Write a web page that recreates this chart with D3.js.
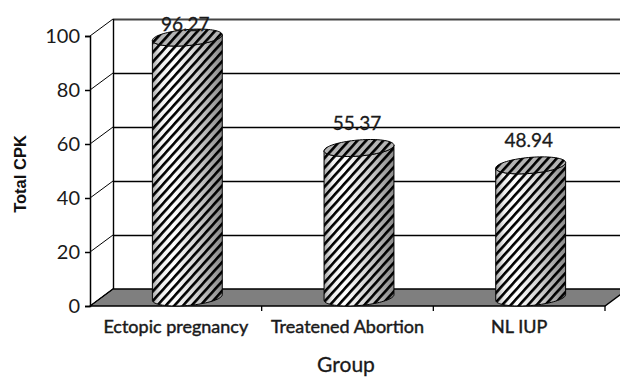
<!DOCTYPE html>
<html>
<head>
<meta charset="utf-8">
<script src="https://cdn.jsdelivr.net/npm/d3@7/dist/d3.min.js"></script>
<style>
  html, body { margin: 0; padding: 0; background: #fff; }
  svg { display: block; }
</style>
</head>
<body>
<svg id="chart" width="620" height="378"></svg>
<script>
// Chart data
const categories = ["Ectopic pregnancy", "Treatened Abortion", "NL IUP"];
const values = [96.27, 55.37, 48.94];
const yTicks = [0, 20, 40, 60, 80, 100];
const yTitle = "Total CPK";
const xTitle = "Group";

const svg = d3.select("#chart");
const W = 620, H = 378;

// Front plane of the 3-D box and the depth offset to the back wall
const frontLeft = 90, frontRight = 605, frontBottom = 306, frontTop = 36;
const depthX = 23, depthY = -17;

const x = d3.scaleBand().domain(categories).range([frontLeft, frontRight]).padding(0);
const y = d3.scaleLinear().domain([0, 100]).range([frontBottom, frontTop]);

const defs = svg.append("defs");

// Diagonal hatch used on the cylinders
const hatch = defs.append("pattern")
  .attr("id", "hatch")
  .attr("patternUnits", "userSpaceOnUse")
  .attr("width", 6.4).attr("height", 6.4)
  .attr("patternTransform", "rotate(42)");
hatch.append("rect").attr("x", 0).attr("y", 0).attr("width", 2.6).attr("height", 6.4).attr("fill", "#000");

// Horizontal shading of the cylinder body
const shade = defs.append("linearGradient").attr("id", "shade")
  .attr("x1", "0%").attr("x2", "100%").attr("y1", "0%").attr("y2", "0%");
[[0, "#a8a8a8"], [0.12, "#f0f0f0"], [0.3, "#ffffff"], [0.6, "#d6d6d6"], [0.85, "#a6a6a6"], [1, "#8a8a8a"]]
  .forEach(([o, c]) => shade.append("stop").attr("offset", o).attr("stop-color", c));

// Clip to the canvas so the box can run past the right edge
defs.append("clipPath").attr("id", "plotClip")
  .append("rect").attr("x", 0).attr("y", 0).attr("width", W).attr("height", H);

const g = svg.append("g").attr("clip-path", "url(#plotClip)");

// Floor
const floorPts = [
  [frontLeft, y(0)], [frontRight, y(0)],
  [frontRight + depthX, y(0) + depthY], [frontLeft + depthX, y(0) + depthY]
];
g.append("polygon")
  .attr("points", floorPts.map(p => p.join(",")).join(" "))
  .attr("fill", "#7f7f7f").attr("stroke", "#000").attr("stroke-width", 1.3);

// Back-wall gridlines
g.selectAll("line.grid").data(yTicks.filter(d => d > 0)).enter().append("line")
  .attr("class", "grid")
  .attr("x1", frontLeft + depthX).attr("x2", frontRight + depthX + 40)
  .attr("y1", d => y(d) + depthY + 0.5).attr("y2", d => y(d) + depthY + 0.5)
  .attr("stroke", d => d === 100 ? "#444" : "#000")
  .attr("stroke-width", d => d === 100 ? 2 : 1.4);

// Side-wall slanted lines
g.selectAll("line.side").data(yTicks).enter().append("line")
  .attr("class", "side")
  .attr("x1", frontLeft).attr("x2", frontLeft + depthX)
  .attr("y1", d => y(d)).attr("y2", d => y(d) + depthY)
  .attr("stroke", "#000").attr("stroke-width", 1);

// Back-wall left edge
g.append("line")
  .attr("x1", frontLeft + depthX + 0.5).attr("x2", frontLeft + depthX + 0.5)
  .attr("y1", y(100) + depthY).attr("y2", y(0) + depthY)
  .attr("stroke", "#000").attr("stroke-width", 1.4);

// Front value axis
const yAxis = d3.axisLeft(y).tickValues(yTicks).tickSize(5).tickPadding(5);
const ya = g.append("g").attr("transform", `translate(${frontLeft},0)`).call(yAxis);
ya.select(".domain").attr("stroke", "#000").attr("stroke-width", 1.5);
ya.selectAll(".tick line").attr("stroke", "#000").attr("stroke-width", 1.5);
ya.selectAll(".tick text")
  .attr("font-family", "Lato, 'Open Sans', sans-serif")
  .attr("font-size", 20).attr("fill", "#1a1a1a");

// Category axis ticks along the floor's front edge
const catBounds = categories.slice(1).map(c => x(c)).concat([frontRight]);
g.selectAll("line.ctick").data(catBounds).enter().append("line")
  .attr("class", "ctick")
  .attr("x1", d => d).attr("x2", d => d)
  .attr("y1", y(0)).attr("y2", y(0) + 5)
  .attr("stroke", "#000").attr("stroke-width", 1.3);

// Cylinders
const rx = 33, ax = depthX / 2, by = depthY / 2;
const theta0 = Math.atan(ax / rx);
function ellipsePt(cx, cy, t) {
  return [cx + rx * Math.cos(t) + ax * Math.sin(t), cy + by * Math.sin(t)];
}
function arcPts(cx, cy, t1, t2, n) {
  return d3.range(n + 1).map(i => ellipsePt(cx, cy, t1 + (t2 - t1) * i / n));
}
const line = d3.line();

const cyl = g.selectAll("g.cyl").data(categories.map((c, i) => ({ c, v: values[i] })))
  .enter().append("g").attr("class", "cyl");

cyl.each(function (d) {
  const sel = d3.select(this);
  const cx = x(d.c) + x.bandwidth() / 2 + depthX / 2;
  const cyBottom = y(0) + depthY / 2;
  const cyTop = y(d.v) + depthY / 2;
  // Body outline: front half of base, then front half of top traced back
  const front = arcPts(cx, cyBottom, theta0 + Math.PI, theta0 + 2 * Math.PI, 40);
  const topFront = arcPts(cx, cyTop, theta0 + 2 * Math.PI, theta0 + Math.PI, 40);
  const bodyPath = line(front.concat(topFront)) + "Z";
  sel.append("path").attr("d", bodyPath).attr("fill", "url(#shade)");
  sel.append("path").attr("d", bodyPath).attr("fill", "url(#hatch)")
    .attr("stroke", "#000").attr("stroke-width", 1);
  // Top cap
  const cap = line(arcPts(cx, cyTop, 0, 2 * Math.PI, 80)) + "Z";
  sel.append("path").attr("d", cap).attr("fill", "#b4b4b4");
  sel.append("path").attr("d", cap).attr("fill", "url(#hatch)")
    .attr("stroke", "#000").attr("stroke-width", 1);
  // Value label
  sel.append("text")
    .attr("x", cx - 2)
    .attr("y", Math.max(cyTop - 18, 31))
    .attr("text-anchor", "middle")
    .attr("font-family", "Lato, 'Open Sans', sans-serif")
    .attr("font-size", 19).attr("fill", "#1a1a1a")
    .attr("stroke", "#1a1a1a").attr("stroke-width", 0.3)
    .text(d3.format(".2f")(d.v));
});

// Category labels
svg.selectAll("text.cat").data(categories).enter().append("text")
  .attr("class", "cat")
  .attr("x", d => x(d) + x.bandwidth() / 2)
  .attr("y", 333)
  .attr("text-anchor", "middle")
  .attr("font-family", "Lato, 'Open Sans', sans-serif")
  .attr("font-size", 18).attr("fill", "#1a1a1a")
  .attr("stroke", "#1a1a1a").attr("stroke-width", 0.45)
  .text(d => d);

// Axis titles
svg.append("text")
  .attr("transform", "translate(26,174) rotate(-90)")
  .attr("text-anchor", "middle")
  .attr("font-family", "'Liberation Sans', Arial, sans-serif")
  .attr("font-size", 16.5).attr("font-weight", "bold").attr("fill", "#111")
  .text(yTitle);

svg.append("text")
  .attr("x", 346).attr("y", 372)
  .attr("text-anchor", "middle")
  .attr("font-family", "Lato, 'Open Sans', sans-serif")
  .attr("font-size", 21).attr("fill", "#1a1a1a")
  .attr("stroke", "#1a1a1a").attr("stroke-width", 0.3)
  .text(xTitle);
</script>
</body>
</html>
